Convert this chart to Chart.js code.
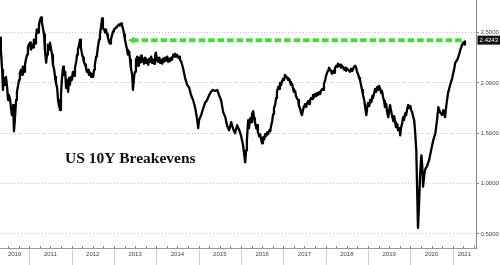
<!DOCTYPE html>
<html><head><meta charset="utf-8">
<script src="https://cdn.jsdelivr.net/npm/chart.js@4"></script>
<style>html,body{margin:0;padding:0;background:#fff}canvas{display:block}</style>
</head><body>
<canvas id="c" width="500" height="265"></canvas>
<script>
// ---- DATA ----
const dates = [
2010.31,2010.33,2010.36,2010.38,2010.40,2010.43,2010.45,2010.48,2010.50,2010.52,
2010.55,2010.57,2010.59,2010.62,2010.64,2010.66,2010.69,2010.71,2010.74,2010.76,
2010.78,2010.81,2010.83,2010.85,2010.88,2010.90,2010.92,2010.95,2010.97,2010.99,
2011.02,2011.04,2011.07,2011.09,2011.11,2011.14,2011.16,2011.18,2011.21,2011.23,
2011.25,2011.28,2011.30,2011.33,2011.35,2011.37,2011.40,2011.42,2011.44,2011.47,
2011.49,2011.51,2011.54,2011.56,2011.59,2011.61,2011.63,2011.66,2011.68,2011.70,
2011.73,2011.75,2011.77,2011.80,2011.82,2011.85,2011.87,2011.89,2011.92,2011.94,
2011.96,2011.99,2012.01,2012.03,2012.06,2012.08,2012.11,2012.13,2012.15,2012.18,
2012.20,2012.22,2012.25,2012.27,2012.29,2012.32,2012.34,2012.36,2012.39,2012.41,
2012.44,2012.46,2012.48,2012.51,2012.53,2012.55,2012.58,2012.60,2012.62,2012.65,
2012.67,2012.70,2012.72,2012.74,2012.77,2012.79,2012.81,2012.84,2012.86,2012.88,
2012.91,2012.93,2012.96,2012.98,2013.00,2013.03,2013.05,2013.07,2013.10,2013.12,
2013.14,2013.17,2013.19,2013.22,2013.24,2013.26,2013.29,2013.31,2013.33,2013.36,
2013.38,2013.40,2013.43,2013.45,2013.48,
2013.50,2013.52,2013.55,2013.57,2013.59,2013.62,2013.64,2013.66,2013.69,2013.71,
2013.74,2013.76,2013.78,2013.81,2013.83,2013.85,2013.88,2013.90,2013.92,2013.95,
2013.97,2013.99,2014.02,2014.04,2014.07,2014.09,2014.11,2014.14,2014.16,2014.18,
2014.21,2014.23,2014.26,2014.28,2014.30,2014.33,2014.35,2014.37,2014.40,2014.42,
2014.44,2014.47,2014.49,2014.52,2014.54,2014.56,2014.59,
2014.63,2014.68,2014.73,2014.78,2014.82,2014.87,2014.92,2014.96,2014.99,2015.01,
2015.06,2015.11,2015.15,2015.20,2015.25,2015.29,2015.34,2015.39,2015.44,2015.48,
2015.53,2015.58,2015.63,2015.67,2015.72,2015.77,2015.81,2015.86,2015.91,2015.96,
2016.00,2016.05,2016.10,2016.12,2016.14,2016.17,2016.19,2016.22,2016.24,2016.26,
2016.29,2016.31,2016.33,2016.36,2016.38,2016.40,2016.43,2016.45,2016.48,2016.50,
2016.52,2016.55,2016.57,2016.59,2016.62,2016.64,2016.67,2016.69,2016.71,2016.74,
2016.76,2016.78,2016.81,2016.83,2016.85,2016.88,2016.90,2016.92,2016.95,2016.97,
2016.99,2017.02,2017.04,2017.07,2017.09,2017.11,2017.14,2017.16,2017.18,2017.21,
2017.23,2017.25,2017.28,2017.30,2017.33,2017.35,2017.37,2017.40,2017.42,2017.44,
2017.47,2017.49,2017.51,2017.54,2017.56,2017.59,2017.61,2017.63,2017.66,2017.68,
2017.70,2017.73,2017.75,2017.78,2017.80,2017.82,2017.85,2017.87,2017.89,2017.92,
2017.94,2017.96,2017.99,2018.01,2018.04,2018.06,2018.08,2018.11,2018.13,2018.15,
2018.18,2018.20,2018.22,2018.25,2018.27,2018.29,2018.32,2018.34,2018.36,2018.39,
2018.44,2018.46,2018.48,2018.51,2018.53,2018.58,2018.60,2018.63,2018.67,2018.70,
2018.72,2018.74,2018.77,2018.79,2018.81,2018.84,2018.86,2018.88,2018.91,2018.93,
2018.96,2018.98,2019.00,2019.03,2019.05,2019.08,2019.10,2019.12,2019.15,2019.17,
2019.19,2019.22,2019.24,2019.26,2019.29,2019.31,2019.33,2019.36,2019.38,2019.40,
2019.43,2019.45,2019.48,2019.50,2019.52,2019.55,2019.57,2019.60,2019.62,2019.64,
2019.66,2019.69,2019.71,2019.74,2019.76,2019.78,2019.81,2019.83,2019.85,2019.88,
2019.90,2019.93,2019.95,2019.97,2020.00,2020.02,2020.04,2020.07,2020.09,
2020.11,2020.14,2020.16,2020.18,2020.21,2020.23,2020.26,2020.28,2020.30,
2020.33,2020.35,2020.40,2020.44,2020.49,2020.54,2020.59,2020.63,2020.66,2020.70,
2020.75,2020.78,2020.82,2020.85,2020.89,2020.94,2020.99,
2021.04,2021.06,2021.11,2021.15,2021.18,2021.20,2021.22,2021.25,2021.27,2021.29
];
const breakevens = [
2.45,2.33,2.13,1.93,2.05,1.98,2.06,1.95,1.83,1.88,
1.83,1.75,1.68,1.78,1.52,1.63,1.83,1.91,1.98,2.03,
2.10,2.13,2.08,2.16,2.11,2.18,2.23,2.28,2.35,2.38,
2.40,2.33,2.38,2.35,2.43,2.39,2.46,2.53,2.50,2.57,
2.62,2.65,2.60,2.53,2.48,2.33,2.20,2.28,2.38,2.33,
2.40,2.35,2.28,2.18,2.13,2.06,2.00,1.95,1.83,1.78,
1.73,1.88,2.03,2.16,2.08,2.11,1.95,2.03,1.91,2.05,
1.98,2.06,2.03,2.11,2.07,2.15,2.21,2.28,2.33,2.38,
2.43,2.35,2.28,2.25,2.21,2.18,2.15,2.11,2.13,2.08,
2.10,2.06,2.09,2.06,2.13,2.18,2.26,2.28,2.35,2.43,
2.48,2.57,2.64,2.54,2.53,2.50,2.53,2.48,2.45,2.41,
2.39,2.43,2.48,2.51,2.53,2.54,2.55,2.56,2.57,2.58,
2.57,2.59,2.57,2.53,2.48,2.43,2.37,2.33,2.28,2.31,
2.23,2.15,2.08,1.93,2.08,
2.11,2.23,2.26,2.17,2.25,2.20,2.27,2.21,2.24,2.19,
2.25,2.20,2.23,2.18,2.24,2.21,2.26,2.20,2.23,2.19,
2.27,2.30,2.23,2.21,2.25,2.20,2.23,2.19,2.24,2.21,
2.25,2.22,2.26,2.21,2.24,2.22,2.25,2.23,2.28,2.26,
2.29,2.26,2.28,2.25,2.26,2.23,2.21,
2.15,2.05,1.98,1.95,1.88,1.83,1.75,1.65,1.55,1.63,
1.68,1.75,1.80,1.83,1.88,1.91,1.93,1.92,1.93,1.88,
1.83,1.71,1.66,1.58,1.53,1.61,1.55,1.50,1.58,1.53,
1.48,1.38,1.21,1.33,1.43,1.63,1.55,1.65,1.61,1.69,
1.72,1.65,1.61,1.55,1.58,1.51,1.47,1.49,1.43,1.40,
1.46,1.44,1.49,1.47,1.51,1.49,1.53,1.52,1.57,1.63,
1.69,1.75,1.79,1.85,1.91,1.96,1.94,2.00,1.98,2.02,
2.04,2.03,2.08,2.06,2.05,2.03,2.04,2.01,1.98,1.99,
1.94,1.91,1.92,1.87,1.84,1.83,1.77,1.74,1.70,1.68,
1.74,1.77,1.79,1.76,1.80,1.82,1.79,1.83,1.85,1.84,
1.88,1.86,1.89,1.87,1.90,1.88,1.91,1.89,1.92,1.94,
1.93,1.99,2.03,2.07,2.11,2.12,2.15,2.13,2.11,2.09,
2.12,2.10,2.15,2.17,2.16,2.19,2.17,2.18,2.15,2.17,
2.13,2.15,2.12,2.14,2.13,2.11,2.14,2.12,2.16,2.17,
2.15,2.11,2.08,2.05,2.03,1.97,1.93,1.88,1.83,1.77,
1.68,1.75,1.80,1.77,1.83,1.81,1.87,1.85,1.91,1.94,
1.91,1.96,1.93,1.97,1.94,1.90,1.92,1.85,1.82,1.76,
1.79,1.71,1.66,1.73,1.78,1.71,1.67,1.62,1.67,1.61,
1.56,1.59,1.53,1.55,1.48,1.55,1.61,1.66,1.63,1.70,
1.68,1.75,1.78,1.75,1.77,1.73,1.71,1.66,1.63,
1.53,1.33,0.94,0.56,0.84,1.09,1.28,1.18,0.97,
1.09,1.14,1.18,1.23,1.33,1.43,1.50,1.63,1.76,1.71,
1.68,1.73,1.66,1.78,1.90,1.98,2.05,
2.15,2.20,2.23,2.28,2.33,2.35,2.38,2.40,2.38,2.42
];
const yearLabels = ['2010','2011','2012','2013','2014','2015','2016','2017','2018','2019','2020','2021'];
const yearBoundaries = [2011,2012,2013,2014,2015,2016,2017,2018,2019,2020,2021];
const yTickValues = [0.5,1.0,1.5,2.0,2.5];
const arrowDates = [2013.43, 2021.29];
const arrowValues = [2.4243, 2.4243];
const lastValue = 2.4243;
const chartTitle = 'US 10Y Breakevens';
const xMin = 2010.31, xMax = 2021.55, yMin = 0.361, yMax = 2.8226;

if (dates.length !== breakevens.length) console.error('length mismatch', dates.length, breakevens.length);

// ---- derived tick positions ----
const edges = [xMin, ...yearBoundaries, xMax];
const labelPos = {};
yearLabels.forEach((l, i) => { labelPos[((edges[i] + edges[i+1]) / 2).toFixed(3)] = l; });
const isBoundary = v => yearBoundaries.some(b => Math.abs(b - v) < 1e-6);
const isMajorY = v => yTickValues.some(t => Math.abs(t - v) < 1e-6);

const overlay = {
  id: 'overlay',
  afterDraw(chart) {
    const {ctx, scales: {x, y}, chartArea} = chart;
    ctx.save();
    ctx.strokeStyle = '#cfcfcf'; ctx.lineWidth = 1;
    yearBoundaries.forEach(b => {
      const px = Math.round(x.getPixelForValue(b)) + 0.5;
      ctx.beginPath(); ctx.moveTo(px, chartArea.bottom + 1); ctx.lineTo(px, 265); ctx.stroke();
    });
    ctx.strokeStyle = '#888';
    for (let q = Math.ceil(xMin * 4); q / 4 < xMax; q++) {
      const px = Math.round(x.getPixelForValue(q / 4)) + 0.5;
      ctx.beginPath(); ctx.moveTo(px, chartArea.bottom - 2); ctx.lineTo(px, chartArea.bottom); ctx.stroke();
    }
    ctx.fillStyle = '#111';
    ctx.font = 'bold 15.5px "Liberation Serif", "Times New Roman", serif';
    ctx.textBaseline = 'alphabetic'; ctx.textAlign = 'left';
    ctx.fillText(chartTitle, 65, 162.5);
    const py = y.getPixelForValue(lastValue);
    ctx.fillStyle = '#111';
    ctx.fillRect(477.5, py - 4.5, 22.5, 9);
    ctx.fillStyle = '#fff';
    ctx.font = '6px "Liberation Sans", Arial, sans-serif';
    ctx.textAlign = 'center'; ctx.textBaseline = 'middle';
    ctx.fillText(lastValue.toFixed(4), 488.8, py + 0.5);
    ctx.restore();
  }
};

new Chart(document.getElementById('c'), {
  type: 'line',
  data: {
    datasets: [
      {
        data: dates.map((d, i) => ({x: d, y: breakevens[i]})),
        borderColor: '#000', borderWidth: 2.3, pointRadius: 0, tension: 0, fill: false,
        borderJoinStyle: 'round'
      },
      {
        data: arrowDates.map((d, i) => ({x: d, y: arrowValues[i]})),
        borderColor: '#45dc35', borderWidth: 4, borderDash: [6.5, 3],
        pointRadius: [4, 0], pointStyle: 'triangle', pointRotation: 270,
        pointBackgroundColor: '#45dc35', pointBorderWidth: 0, fill: false
      }
    ]
  },
  options: {
    responsive: false, animation: false, devicePixelRatio: 1,
    layout: {padding: 0, autoPadding: false},
    plugins: {legend: {display: false}, tooltip: {enabled: false}, title: {display: false}},
    scales: {
      x: {
        type: 'linear', min: xMin, max: xMax,
        afterBuildTicks: s => {
          const vals = [...yearBoundaries, ...Object.keys(labelPos).map(Number)].sort((a, b) => a - b);
          s.ticks = vals.map(v => ({value: v}));
        },
        afterFit: s => { s.height = 17; s.paddingLeft = 0; s.paddingRight = 0; },
        ticks: {
          autoSkip: false, maxRotation: 0, padding: 3,
          color: '#444', font: {family: '"Liberation Sans", Arial, sans-serif', size: 6},
          callback: v => labelPos[Number(v).toFixed(3)] || null
        },
        grid: {
          drawTicks: false,
          color: c => (c.tick && isBoundary(c.tick.value)) ? '#c4c4c4' : 'rgba(0,0,0,0)',
          lineWidth: 1
        },
        border: {display: true, color: '#999', width: 1, dash: [1, 2]}
      },
      y: {
        type: 'linear', position: 'right', min: yMin, max: yMax,
        afterBuildTicks: s => {
          const t = [];
          for (let v = 0.5; v < yMax; v += 0.25) t.push({value: Math.round(v * 100) / 100});
          s.ticks = t;
        },
        afterFit: s => { s.width = 24; s.paddingTop = 0; s.paddingBottom = 0; },
        ticks: {
          padding: 1.5, color: '#444',
          font: {family: '"Liberation Sans", Arial, sans-serif', size: 6},
          callback: v => isMajorY(v) ? Number(v).toFixed(4) : null
        },
        grid: {
          drawTicks: true, tickLength: 3,
          color: c => (c.tick && isMajorY(c.tick.value)) ? '#c4c4c4' : 'rgba(0,0,0,0)',
          tickColor: '#888', tickBorderDash: [], lineWidth: 1
        },
        border: {display: true, color: '#888', width: 1, dash: [1, 2]}
      }
    }
  },
  plugins: [overlay]
});
</script>
</body></html>
